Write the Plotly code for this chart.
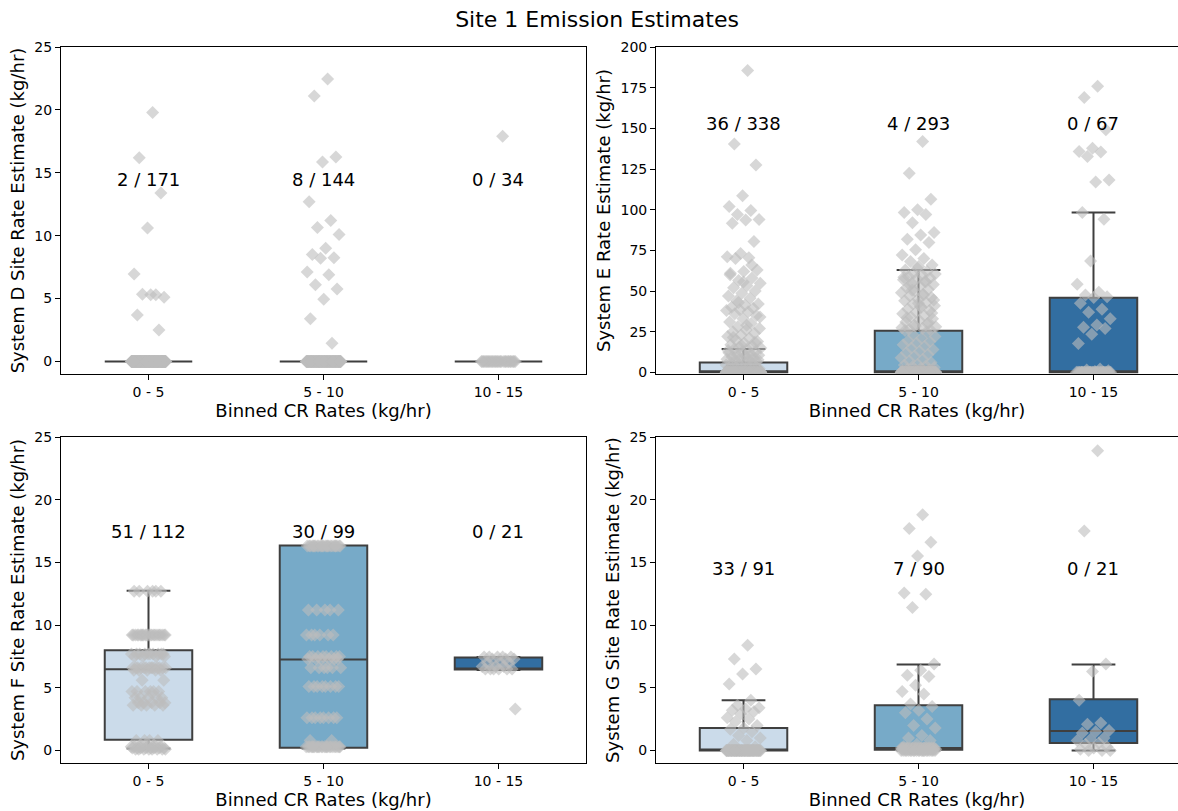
import plotly.graph_objects as go

# ---------------------------------------------------------------- data
BINS = ["0 - 5", "5 - 10", "10 - 15"]
BOX_COLORS = ["#cbdbea", "#77aac8", "#326ea1"]

# System D site rate estimates per CR bin (kg/hr)
D_0_5 = [19.8, 16.2, 13.4, 10.6, 6.95, 5.3, 5.35, 5.1, 5.3, 3.7, 2.5] + [0.0] * 160
D_5_10 = [22.45, 21.1, 16.25, 15.85, 12.7, 11.2, 10.65, 10.1, 9.0, 8.5, 8.25,
          8.2, 7.1, 6.9, 6.1, 5.75, 4.95, 3.4, 1.45] + [0.0] * 125
D_10_15 = [17.9] + [0.0] * 33

# System E rate estimates per CR bin (kg/hr)
E_0_5 = [185.6, 140.3, 127.4, 108.5, 102.0, 99.5, 97.0, 94.0, 93.7, 91.7,
         80.4, 73.0, 71.0, 70.5, 70.0, 63.0, 62.0, 61.0, 58.0, 56.4, 54.8,
         53.3, 52.0, 50.0, 48.6, 47.0, 45.5, 44.0, 42.0, 41.4, 40.0, 39.4,
         38.5, 38.0, 37.3, 36.0, 35.0, 33.0, 31.0, 30.0, 28.0, 27.0, 26.0,
         25.0, 24.0, 23.0, 22.0, 21.0, 20.0, 19.0, 18.0, 17.0, 16.0, 15.5,
         15.0, 14.4, 14.0, 13.0, 12.5, 12.0, 11.5, 11.0, 10.5, 10.0, 9.5,
         9.0, 8.5, 8.0, 7.5, 7.0, 6.5, 55.5, 60.0, 66.0, 43.0, 34.0, 29.0,
         21.5, 18.5, 16.5, 13.5, 9.8, 8.8, 7.8, 6.8,
         5.8, 5.5, 5.0, 4.6, 4.2, 3.8, 3.5, 3.2, 3.0, 2.7, 2.4, 2.2, 2.0,
         1.8, 1.6, 1.4, 1.2, 1.0, 0.9, 0.8, 0.7, 0.6, 0.5, 0.4, 0.3,
         0.3, 0.2, 0.2, 0.1, 0.1] + [0.0] * 223
E_5_10 = [141.9, 122.4, 106.4, 99.9, 98.2, 97.0, 92.0, 85.9, 84.5, 81.8,
          79.8, 75.3, 72.2, 70.0, 68.1, 66.0, 65.0, 63.0, 62.0, 61.0, 60.5,
          60.0, 59.0, 58.0, 57.5, 57.0, 56.0, 55.0, 54.0, 53.0, 52.0, 51.0,
          50.0, 49.0, 48.0, 47.0, 46.0, 45.0, 44.0, 43.0, 42.0, 41.0, 40.0,
          39.0, 38.0, 37.0, 36.0, 35.0, 34.0, 33.0, 32.0, 31.0, 30.0, 29.0,
          28.0, 27.0, 26.5, 26.0, 64.0, 58.5, 55.5, 50.5, 44.5, 40.5, 33.5,
          30.5, 28.5, 27.5, 47.5, 53.5, 36.5, 42.5, 25.8,
          25.0, 23.0, 22.0, 21.0, 19.5, 19.0, 18.0, 17.0, 16.0, 15.0, 14.0,
          13.0, 12.0, 11.0, 10.0, 9.0, 8.0, 7.0, 6.0, 5.0, 4.5, 4.0, 3.5,
          3.0, 2.5, 2.0, 1.5, 1.2, 1.0, 0.8, 0.6, 0.5, 0.4, 0.3, 0.2, 0.1,
          0.1] + [0.0] * 170
E_10_15 = [175.8, 169.0, 149.1, 137.8, 135.8, 135.5, 132.7, 118.3, 117.0,
           98.2, 94.1, 68.5, 54.1, 49.2, 47.6, 46.5, 46.0, 42.5, 38.8, 37.0,
           33.0, 29.1, 27.7, 27.0, 23.4, 17.8, 2.0, 1.5, 1.0, 0.5] + [0.0] * 37

# System F site rate estimates per CR bin (kg/hr)
F_0_5 = ([12.7] * 6 + [9.2] * 22 + [7.7] * 10 + [7.5] * 4 + [6.6] * 14 +
         [6.4] * 5 + [5.6] * 2 + [4.7] * 6 + [4.2] * 5 + [3.8] * 5 +
         [3.6] * 5 + [0.8] * 4 + [0.3] * 8 + [0.2] * 8 + [0.1] * 8)
F_5_10 = ([16.3] * 25 + [11.2] * 5 + [9.2] * 6 + [7.5] * 8 + [7.3] * 6 +
          [6.6] * 6 + [5.1] * 8 + [2.6] * 8 + [0.8] * 2 + [0.3] * 25)
F_10_15 = [7.45] * 5 + [7.3] * 3 + [7.0] * 3 + [6.7] * 3 + [6.5] * 6 + [3.3]

# System G site rate estimates per CR bin (kg/hr)
G_0_5 = [8.4, 7.3, 6.5, 6.1, 5.3, 4.0, 3.6, 3.4, 3.3, 3.2, 3.1, 2.9, 2.6,
         2.5, 2.3, 2.0, 1.8, 1.7, 1.5, 1.2, 1.0, 0.8, 0.5, 0.3] + [0.0] * 67
G_5_10 = ([18.8, 17.7, 16.6, 15.5, 12.55, 12.45, 11.4, 6.9, 6.4, 6.0, 5.9,
           5.2, 4.7, 4.5, 3.7, 3.5, 3.2, 3.0, 2.5, 2.0, 1.8, 1.2, 1.0, 0.8,
           0.5, 0.3, 0.2, 0.2] + [0.2] * 20 + [0.1] * 20 + [0.0] * 22)
G_10_15 = [23.9, 17.5, 6.9, 6.3, 4.0, 2.2, 2.1, 1.6, 1.5, 1.4, 1.0, 0.9,
           0.8, 0.6, 0.5, 0.3, 0.2, 0.1, 0.0, 0.0, 0.0]

# box summary statistics per bin: lower whisker, Q1, median, Q3, upper whisker
D_LOWER, D_Q1, D_MEDIAN, D_Q3, D_UPPER = [0, 0, 0], [0, 0, 0], [0, 0, 0], [0, 0, 0], [0, 0, 0]
E_LOWER, E_Q1, E_MEDIAN = [0, 0, 0], [0, 0, 0], [0, 0, 0]
E_Q3, E_UPPER = [6.0, 25.6, 45.9], [14.4, 63.0, 98.2]
F_LOWER, F_Q1, F_MEDIAN = [0.15, 0.15, 6.42], [0.85, 0.21, 6.45], [6.48, 7.25, 6.5]
F_Q3, F_UPPER = [8.0, 16.34, 7.41], [12.74, 16.34, 7.45]
G_LOWER, G_Q1, G_MEDIAN = [0, 0, 0], [0, 0.05, 0.59], [0, 0.19, 1.55]
G_Q3, G_UPPER = [1.79, 3.6, 4.08], [4.0, 6.85, 6.85]

# detection counts shown above each bin
D_COUNTS = ["2 / 171", "8 / 144", "0 / 34"]
E_COUNTS = ["36 / 338", "4 / 293", "0 / 67"]
F_COUNTS = ["51 / 112", "30 / 99", "0 / 21"]
G_COUNTS = ["33 / 91", "7 / 90", "0 / 21"]

# ---------------------------------------------------------------- layout
W, H = 1178, 811
FONT = "DejaVu Sans"
LINE = "#3f3f3f"
POINT = "#bdbdbd"

panels = [
    dict(ax="", values=[D_0_5, D_5_10, D_10_15],
         stats=(D_LOWER, D_Q1, D_MEDIAN, D_Q3, D_UPPER), counts=D_COUNTS,
         ytitle="System D Site Rate Estimate (kg/hr)", yrange=[-1, 25], dtick=5,
         label_y=14.5, xdom=[0, 0.47], ydom=[0.5433, 1], right=False),
    dict(ax="2", values=[E_0_5, E_5_10, E_10_15],
         stats=(E_LOWER, E_Q1, E_MEDIAN, E_Q3, E_UPPER), counts=E_COUNTS,
         ytitle="System E Rate Estimate (kg/hr)", yrange=[-1, 200], dtick=25,
         label_y=152.7, xdom=[0.5327, 1], ydom=[0.5433, 1], right=True),
    dict(ax="3", values=[F_0_5, F_5_10, F_10_15],
         stats=(F_LOWER, F_Q1, F_MEDIAN, F_Q3, F_UPPER), counts=F_COUNTS,
         ytitle="System F Site Rate Estimate (kg/hr)", yrange=[-1, 25], dtick=5,
         label_y=17.5, xdom=[0, 0.47], ydom=[0, 0.4553], right=False),
    dict(ax="4", values=[G_0_5, G_5_10, G_10_15],
         stats=(G_LOWER, G_Q1, G_MEDIAN, G_Q3, G_UPPER), counts=G_COUNTS,
         ytitle="System G Site Rate Estimate (kg/hr)", yrange=[-1, 25], dtick=5,
         label_y=14.5, xdom=[0.5327, 1], ydom=[0, 0.4553], right=True),
]


def jitter(n, spread=0.1):
    """Deterministic, evenly spread strip offsets in [-spread, spread]."""
    return [(((k + 1) * 0.6180339887) % 1.0 - 0.5) * 2 * spread for k in range(n)]


fig = go.Figure()
annotations = []
layout_axes = {}

for p in panels:
    xa, ya = "x" + p["ax"], "y" + p["ax"]
    lower, q1, med, q3, upper = p["stats"]
    for i, cat in enumerate(BINS):
        fig.add_trace(go.Box(
            x=[i], q1=[q1[i]], median=[med[i]], q3=[q3[i]],
            lowerfence=[lower[i]], upperfence=[upper[i]],
            width=0.5, whiskerwidth=0.5, boxpoints=False,
            fillcolor=BOX_COLORS[i], line=dict(color=LINE, width=2),
            xaxis=xa, yaxis=ya, showlegend=False, name=cat,
        ))
    for i, vals in enumerate(p["values"]):
        offs = jitter(len(vals))
        fig.add_trace(go.Scatter(
            x=[i + o for o in offs], y=vals, mode="markers",
            marker=dict(symbol="diamond", size=10, color=POINT, opacity=0.6,
                        line=dict(width=0)),
            xaxis=xa, yaxis=ya, showlegend=False, hoverinfo="y",
        ))
        annotations.append(dict(
            x=i, y=p["label_y"], xref=xa, yref=ya, text=p["counts"][i],
            showarrow=False, xanchor="center", yanchor="middle",
            font=dict(family=FONT, size=18, color="#000000"),
        ))

    xr = [-0.5, 2.4829] if p["right"] else [-0.5, 2.5]
    axis_common = dict(showgrid=False, zeroline=False, showline=True,
                       linecolor="#000000", linewidth=1, ticks="outside",
                       ticklen=5, tickwidth=1, tickcolor="#000000",
                       tickfont=dict(family=FONT, size=14, color="#000000"))
    layout_axes["xaxis" + p["ax"]] = dict(
        axis_common, domain=p["xdom"], anchor=ya, range=xr, mirror=True,
        tickmode="array", tickvals=[0, 1, 2], ticktext=BINS,
        title=dict(text="Binned CR Rates (kg/hr)", standoff=2,
                   font=dict(family=FONT, size=18, color="#000000")),
    )
    layout_axes["yaxis" + p["ax"]] = dict(
        axis_common, domain=p["ydom"], anchor=xa, range=p["yrange"],
        mirror=not p["right"], tickmode="linear", tick0=0, dtick=p["dtick"],
        title=dict(text=p["ytitle"], standoff=5,
                   font=dict(family=FONT, size=18, color="#000000")),
    )

fig.update_layout(
    width=W, height=H,
    margin=dict(l=61, r=0, t=47, b=48),
    paper_bgcolor="white", plot_bgcolor="white",
    font=dict(family=FONT, color="#000000"),
    title=dict(text="Site 1 Emission Estimates", xref="container", yref="container",
               x=0.5068, y=1 - 19 / H, xanchor="center", yanchor="middle",
               font=dict(family=FONT, size=22, color="#000000")),
    annotations=annotations,
    **layout_axes,
)

fig.write_html("out.html")
